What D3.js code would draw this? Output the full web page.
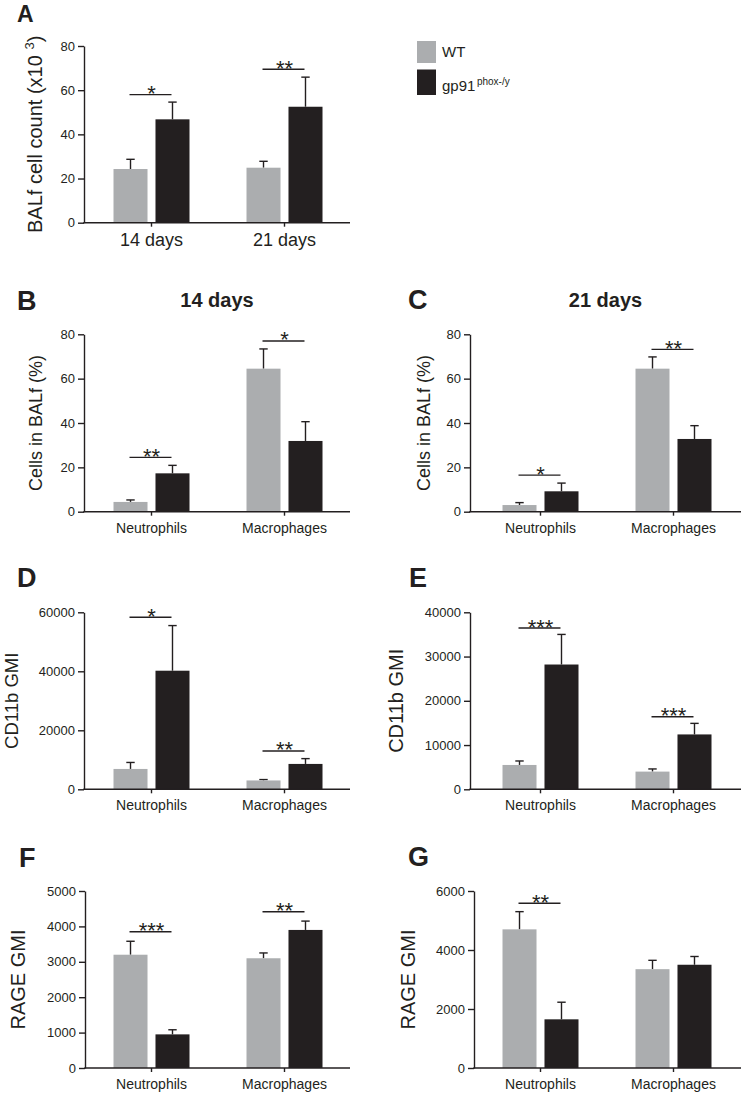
<!DOCTYPE html>
<html><head><meta charset="utf-8">
<script src="https://cdn.jsdelivr.net/npm/d3@7"></script>
<style>
body{margin:0;background:#fff}
svg{display:block}
text{font-family:"Liberation Sans",Arial,Helvetica,sans-serif;fill:#231f20}
</style>
</head><body>
<svg id="chart" width="741" height="1093"></svg>
<script>
// ---------- DATA ----------
const groups = ["WT", "gp91phox-/y"];
const timeCategories = ["14 days", "21 days"];
const cellCategories = ["Neutrophils", "Macrophages"];

// Panel A: BALf cell count (x10^3)
const aTicks = [0, 20, 40, 60, 80];
const aWT = [24.3, 24.9];
const aWTsem = [4.4, 2.9];
const aKO = [46.8, 52.5];
const aKOsem = [7.8, 13.4];
const aSig = [{cat: 0, level: 58, label: "*"}, {cat: 1, level: 69.5, label: "**"}];

// Panel B: Cells in BALf (%), 14 days
const bTicks = [0, 20, 40, 60, 80];
const bWT = [4.4, 64.5];
const bWTsem = [0.9, 8.9];
const bKO = [17.3, 31.9];
const bKOsem = [3.6, 8.7];
const bSig = [{cat: 0, level: 24.5, label: "**"}, {cat: 1, level: 77, label: "*"}];

// Panel C: Cells in BALf (%), 21 days
const cTicks = [0, 20, 40, 60, 80];
const cWT = [3.0, 64.5];
const cWTsem = [1.1, 5.3];
const cKO = [9.2, 32.8];
const cKOsem = [3.7, 6.0];
const cSig = [{cat: 0, level: 16.5, label: "*"}, {cat: 1, level: 73.2, label: "**"}];

// Panel D: CD11b GMI, 14 days
const dTicks = [0, 20000, 40000, 60000];
const dWT = [6900, 3000];
const dWTsem = [2200, 300];
const dKO = [40200, 8600];
const dKOsem = [15300, 1800];
const dSig = [{cat: 0, level: 58300, label: "*"}, {cat: 1, level: 13000, label: "**"}];

// Panel E: CD11b GMI, 21 days
const eTicks = [0, 10000, 20000, 30000, 40000];
const eWT = [5500, 4000];
const eWTsem = [900, 600];
const eKO = [28200, 12400];
const eKOsem = [6800, 2500];
const eSig = [{cat: 0, level: 36450, label: "***"}, {cat: 1, level: 16400, label: "***"}];

// Panel F: RAGE GMI, 14 days
const fTicks = [0, 1000, 2000, 3000, 4000, 5000];
const fWT = [3200, 3100];
const fWTsem = [380, 150];
const fKO = [950, 3900];
const fKOsem = [130, 250];
const fSig = [{cat: 0, level: 3850, label: "***"}, {cat: 1, level: 4415, label: "**"}];

// Panel G: RAGE GMI, 21 days
const gTicks = [0, 2000, 4000, 6000];
const gWT = [4700, 3350];
const gWTsem = [600, 300];
const gKO = [1650, 3500];
const gKOsem = [580, 280];
const gSig = [{cat: 0, level: 5583, label: "**"}];

// ---------- STYLE ----------
const colorWT = "#abadaf";
const colorKO = "#231f20";
const ink = "#231f20";

const svg = d3.select("#chart");

const panels = [
  {letter: "A", cats: timeCategories, ticks: aTicks, wt: aWT, wtS: aWTsem, ko: aKO, koS: aKOsem, sig: aSig,
   axisX: 84, xEnd: 350, band: [85, 351], top: 46, bottom: 222.7, catFont: 18,
   ylabel: "BALf cell count", ylabelSup: true, ylabelX: 42, ylabelFont: 20,
   letterX: 17, letterY: 22, letterFont: 23},
  {letter: "B", cats: cellCategories, ticks: bTicks, wt: bWT, wtS: bWTsem, ko: bKO, koS: bKOsem, sig: bSig,
   axisX: 84, xEnd: 350, band: [85, 351], top: 334.3, bottom: 511.7, catFont: 14,
   ylabel: "Cells in BALf (%)", ylabelX: 42, ylabelFont: 18, title: "14 days",
   letterX: 17, letterY: 310},
  {letter: "C", cats: cellCategories, ticks: cTicks, wt: cWT, wtS: cWTsem, ko: cKO, koS: cKOsem, sig: cSig,
   axisX: 470, xEnd: 741, band: [474, 740], top: 334.3, bottom: 511.7, catFont: 14,
   ylabel: "Cells in BALf (%)", ylabelX: 430, ylabelFont: 18, title: "21 days",
   letterX: 408, letterY: 309},
  {letter: "D", cats: cellCategories, ticks: dTicks, wt: dWT, wtS: dWTsem, ko: dKO, koS: dKOsem, sig: dSig,
   axisX: 84, xEnd: 350, band: [85, 351], top: 612.3, bottom: 789.3, catFont: 14,
   ylabel: "CD11b GMI", ylabelX: 17.5, ylabelFont: 18.5,
   letterX: 17, letterY: 587},
  {letter: "E", cats: cellCategories, ticks: eTicks, wt: eWT, wtS: eWTsem, ko: eKO, koS: eKOsem, sig: eSig,
   axisX: 470, xEnd: 741, band: [474, 740], top: 612.3, bottom: 789.3, catFont: 14,
   ylabel: "CD11b GMI", ylabelX: 403, ylabelFont: 20,
   letterX: 409, letterY: 587},
  {letter: "F", cats: cellCategories, ticks: fTicks, wt: fWT, wtS: fWTsem, ko: fKO, koS: fKOsem, sig: fSig,
   axisX: 85, xEnd: 350, band: [85, 351], top: 891, bottom: 1068, catFont: 14,
   ylabel: "RAGE GMI", ylabelX: 25, ylabelFont: 20,
   letterX: 19, letterY: 867},
  {letter: "G", cats: cellCategories, ticks: gTicks, wt: gWT, wtS: gWTsem, ko: gKO, koS: gKOsem, sig: gSig,
   axisX: 474, xEnd: 741, band: [474, 740], top: 891, bottom: 1068, catFont: 14,
   ylabel: "RAGE GMI", ylabelX: 415, ylabelFont: 20,
   letterX: 408, letterY: 866}
];

function drawPanel(p) {
  const g = svg.append("g");
  const y = d3.scaleLinear().domain([0, d3.max(p.ticks)]).range([p.bottom, p.top]);
  const x = d3.scaleBand().domain(p.cats).range(p.band);
  const inner = (x.bandwidth() - 76) / 2;
  const xs = d3.scaleBand().domain(groups).range([inner, inner + 76]).paddingInner(0.19);
  const bw = xs.bandwidth();

  const rows = [];
  p.cats.forEach((c, i) => {
    rows.push({cat: c, grp: groups[0], v: p.wt[i], s: p.wtS[i], color: colorWT});
    rows.push({cat: c, grp: groups[1], v: p.ko[i], s: p.koS[i], color: colorKO});
  });

  // error bars (above mean)
  const eb = g.append("g");
  rows.forEach(r => {
    const cx = x(r.cat) + xs(r.grp) + bw / 2;
    eb.append("line").attr("x1", cx).attr("x2", cx)
      .attr("y1", y(r.v)).attr("y2", y(r.v + r.s))
      .attr("stroke", ink).attr("stroke-width", 1.4);
    eb.append("line").attr("x1", cx - 4.2).attr("x2", cx + 4.2)
      .attr("y1", y(r.v + r.s)).attr("y2", y(r.v + r.s))
      .attr("stroke", ink).attr("stroke-width", 1.4);
  });

  // bars
  g.append("g").selectAll("rect").data(rows).join("rect")
    .attr("x", d => x(d.cat) + xs(d.grp))
    .attr("width", bw)
    .attr("y", d => y(d.v))
    .attr("height", d => y(0) - y(d.v))
    .attr("fill", d => d.color);

  // y axis
  const ya = g.append("g").attr("transform", `translate(${p.axisX},0)`)
    .call(d3.axisLeft(y).tickValues(p.ticks).tickSize(6).tickSizeOuter(0).tickPadding(3).tickFormat(d3.format("d")));
  ya.selectAll("path,line").attr("stroke", ink).attr("stroke-width", 1.4);
  ya.selectAll("text").attr("font-size", 13).attr("fill", ink)
    .style("font-family", '"Liberation Sans",Arial,sans-serif');

  // x axis
  const xa = g.append("g").attr("transform", `translate(0,${p.bottom})`)
    .call(d3.axisBottom(x).tickSize(4).tickPadding(7).tickSizeOuter(0));
  xa.select(".domain").remove();
  xa.selectAll("line").attr("stroke", ink).attr("stroke-width", 1.4);
  xa.selectAll("text").attr("font-size", p.catFont).attr("fill", ink)
    .style("font-family", '"Liberation Sans",Arial,sans-serif');
  g.append("line").attr("x1", p.axisX - 0.7).attr("x2", p.xEnd)
    .attr("y1", p.bottom).attr("y2", p.bottom)
    .attr("stroke", ink).attr("stroke-width", 1.4);

  // significance
  p.sig.forEach(s => {
    const c = p.cats[s.cat];
    const x1 = x(c) + xs(groups[0]) + bw / 2;
    const x2 = x(c) + xs(groups[1]) + bw / 2;
    const ly = y(s.level);
    g.append("line").attr("x1", x1 - 1).attr("x2", x2 - 1)
      .attr("y1", ly).attr("y2", ly).attr("stroke", ink).attr("stroke-width", 1.4);
    g.append("text").attr("x", (x1 + x2) / 2).attr("y", ly + 6.5)
      .attr("text-anchor", "middle").attr("font-size", 22).text(s.label);
  });

  // y label
  const yl = g.append("text")
    .attr("transform", `translate(${p.ylabelX},${(p.top + p.bottom) / 2}) rotate(-90)`)
    .attr("text-anchor", "middle").attr("font-size", p.ylabelFont);
  if (p.ylabelSup) {
    yl.append("tspan").text(p.ylabel + " (x10 ");
    yl.append("tspan").attr("font-size", 13).attr("dy", -8).text("3");
    yl.append("tspan").attr("dy", 8).text(")");
  } else {
    yl.text(p.ylabel);
  }

  // title
  if (p.title) {
    g.append("text").attr("x", (p.axisX + p.xEnd) / 2).attr("y", 307)
      .attr("text-anchor", "middle").attr("font-size", 20).attr("font-weight", "bold").text(p.title);
  }

  // letter
  g.append("text").attr("x", p.letterX).attr("y", p.letterY)
    .attr("font-size", p.letterFont || 27).attr("font-weight", "bold").text(p.letter);
}

panels.forEach(drawPanel);

// legend
const lg = svg.append("g");
lg.append("rect").attr("x", 417).attr("y", 41).attr("width", 19).attr("height", 22).attr("fill", colorWT);
lg.append("rect").attr("x", 417).attr("y", 69.5).attr("width", 19).attr("height", 25.5).attr("fill", colorKO);
lg.append("text").attr("x", 442).attr("y", 57.3).attr("font-size", 15).text(groups[0]);
const kt = lg.append("text").attr("x", 442).attr("y", 90.7).attr("font-size", 15);
kt.append("tspan").text("gp91");
kt.append("tspan").attr("font-size", 10).attr("dx", 1.5).attr("dy", -6).text("phox-/y");
</script>
</body></html>
